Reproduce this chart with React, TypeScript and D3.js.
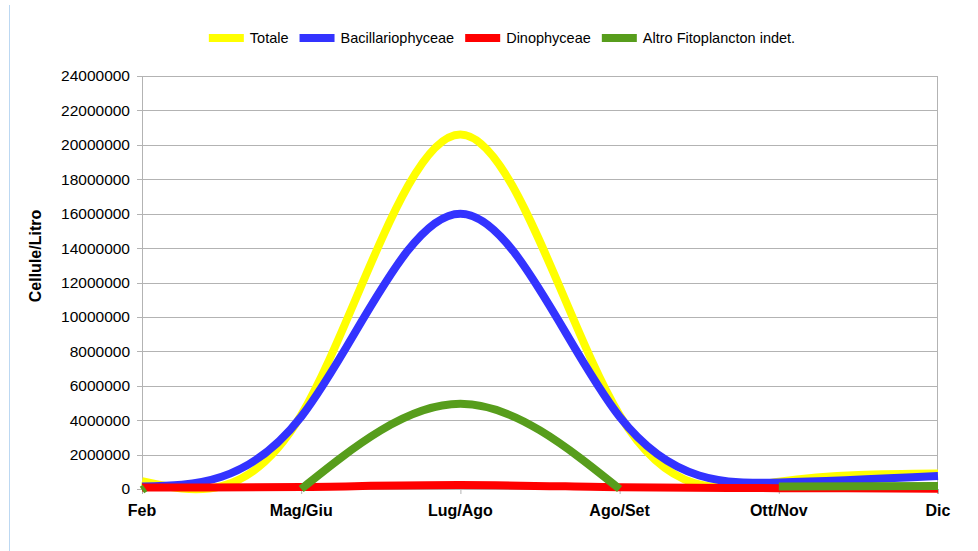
import React, { useEffect, useRef } from 'react';
import * as d3 from 'd3';

const categories = ['Feb', 'Mag/Giu', 'Lug/Ago', 'Ago/Set', 'Ott/Nov', 'Dic'];
const yTickValues = [0, 2000000, 4000000, 6000000, 8000000, 10000000, 12000000, 14000000, 16000000, 18000000, 20000000, 22000000, 24000000];

const seriesNames = ['Totale', 'Bacillariophyceae', 'Dinophyceae', 'Altro Fitoplancton indet.'];
const seriesColors = ['#ffff00', '#3333ff', '#ff0000', '#579d1c'];

const totale = [450000, 4300000, 20600000, 4300000, 420000, 900000];
const bacillariophyceae = [150000, 4200000, 16000000, 4200000, 380000, 760000];
const dinophyceae = [90000, 120000, 230000, 100000, 50000, 20000];
const altro = [0, 0, 4950000, 0, 150000, 170000];
// indices after which the line is broken (empty cells in the sheet)
const altroBreaks = [0, 3];

const seriesValues = [totale, bacillariophyceae, dinophyceae, altro];
const seriesBreaks = [[], [], [], altroBreaks];

const W = 978;
const H = 551;
const FONT = '"Liberation Sans", Arial, sans-serif';

export default function App() {
  const svgRef = useRef<SVGSVGElement>(null);

  useEffect(() => {
    if (!svgRef.current) return;
    const svg = d3.select(svgRef.current);
    svg.selectAll('*').remove();

    const margin = { top: 76, right: 40, bottom: 62, left: 142 };

    const x = d3.scalePoint<string>()
      .domain(categories)
      .range([margin.left, W - margin.right]);

    const y = d3.scaleLinear()
      .domain([0, 24000000])
      .range([H - margin.bottom, margin.top]);

    const x0 = margin.left;
    const x1 = W - margin.right;

    // document frame line on the left
    svg.append('line')
      .attr('x1', 9.5).attr('x2', 9.5)
      .attr('y1', 5).attr('y2', H)
      .attr('stroke', '#bcd8f2')
      .attr('stroke-width', 1);

    // grid + y ticks
    const grid = svg.append('g');
    yTickValues.forEach(v => {
      grid.append('line')
        .attr('x1', x0 - 5).attr('x2', x1)
        .attr('y1', Math.round(y(v)) + 0.5).attr('y2', Math.round(y(v)) + 0.5)
        .attr('stroke', '#b3b3b3')
        .attr('stroke-width', 1);
      grid.append('text')
        .attr('x', 130)
        .attr('y', y(v))
        .attr('dy', '0.35em')
        .attr('text-anchor', 'end')
        .style('font-family', FONT)
        .style('font-size', '15.5px')
        .attr('fill', '#000')
        .text(String(v));
    });

    // axis lines
    svg.append('line')
      .attr('x1', x0 + 0.5).attr('x2', x0 + 0.5)
      .attr('y1', y(24000000)).attr('y2', y(0) + 5)
      .attr('stroke', '#b3b3b3');
    svg.append('line')
      .attr('x1', x1 - 0.5).attr('x2', x1 - 0.5)
      .attr('y1', y(24000000)).attr('y2', y(0) + 5)
      .attr('stroke', '#b3b3b3');

    // x ticks + labels
    categories.forEach(c => {
      const cx = x(c) as number;
      svg.append('line')
        .attr('x1', cx + 0.5).attr('x2', cx + 0.5)
        .attr('y1', y(0)).attr('y2', y(0) + 5)
        .attr('stroke', '#b3b3b3');
      svg.append('text')
        .attr('x', cx)
        .attr('y', 510)
        .attr('dy', '0.35em')
        .attr('text-anchor', 'middle')
        .style('font-family', FONT)
        .style('font-size', '16px')
        .style('font-weight', 'bold')
        .text(c);
    });

    // y axis title
    svg.append('text')
      .attr('transform', `translate(35, ${(207 + 305) / 2}) rotate(-90)`)
      .attr('dy', '0.35em')
      .attr('text-anchor', 'middle')
      .style('font-family', FONT)
      .style('font-size', '16px')
      .style('font-weight', 'bold')
      .text('Cellule/Litro');

    // series
    const line = d3.line<{ c: string; v: number }>()
      .x(d => x(d.c) as number)
      .y(d => y(d.v))
      .curve(d3.curveNatural);

    seriesValues.forEach((vals, si) => {
      const breaks = seriesBreaks[si];
      const segments: { c: string; v: number }[][] = [];
      let cur: { c: string; v: number }[] = [];
      vals.forEach((v, i) => {
        cur.push({ c: categories[i], v });
        if (breaks.includes(i)) {
          segments.push(cur);
          cur = [];
        }
      });
      if (cur.length) segments.push(cur);

      segments.forEach(seg => {
        if (seg.length === 1) {
          const px = x(seg[0].c) as number;
          svg.append('line')
            .attr('x1', px).attr('x2', px + 3)
            .attr('y1', y(seg[0].v) + 1).attr('y2', y(seg[0].v) - 1)
            .attr('stroke', seriesColors[si])
            .attr('stroke-width', 8);
        } else {
          svg.append('path')
            .datum(seg)
            .attr('fill', 'none')
            .attr('stroke', seriesColors[si])
            .attr('stroke-width', 8)
            .attr('d', line);
        }
      });
    });

    // legend
    const ctx = document.createElement('canvas').getContext('2d');
    const legendFont = '14.5px "Liberation Sans", Arial, sans-serif';
    if (ctx) ctx.font = legendFont;
    const swatchW = 35;
    const gapText = 6;
    const gapItem = 11;
    const widths = seriesNames.map(n => (ctx ? ctx.measureText(n).width : n.length * 7));
    const total = widths.reduce((a, w) => a + swatchW + gapText + w, 0) + gapItem * (seriesNames.length - 1);
    let lx = 502 - total / 2;
    const legend = svg.append('g');
    seriesNames.forEach((n, i) => {
      legend.append('rect')
        .attr('x', lx).attr('y', 34)
        .attr('width', swatchW).attr('height', 8)
        .attr('fill', seriesColors[i]);
      legend.append('text')
        .attr('x', lx + swatchW + gapText)
        .attr('y', 38)
        .attr('dy', '0.35em')
        .style('font-family', FONT)
        .style('font-size', '14.5px')
        .text(n);
      lx += swatchW + gapText + widths[i] + gapItem;
    });
  }, []);

  return (
    <svg
      ref={svgRef}
      width={W}
      height={H}
      style={{ position: 'absolute', left: 0, top: 0, background: '#fff' }}
    />
  );
}
